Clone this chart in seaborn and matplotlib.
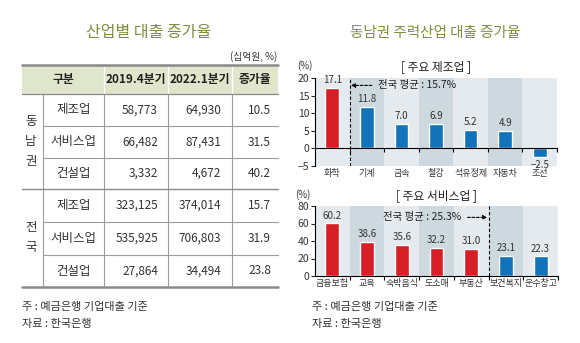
import matplotlib
matplotlib.use('Agg')
import matplotlib.pyplot as plt
from matplotlib.patches import Rectangle
import seaborn as sns
import pandas as pd
import numpy as np

# ---------------- data ----------------
left_title = '산업별 대출 증가율'
right_title = '동남권 주력산업 대출 증가율'
unit_label = '(십억원, %)'
table_header = ['구분', '2019.4분기', '2022.1분기', '증가율']
table_groups = ['동남권', '전국']
table_sectors = ['제조업', '서비스업', '건설업']
se_2019q4 = ['58,773', '66,482', '3,332']
se_2022q1 = ['64,930', '87,431', '4,672']
se_growth = ['10.5', '31.5', '40.2']
nat_2019q4 = ['323,125', '535,925', '27,864']
nat_2022q1 = ['374,014', '706,803', '34,494']
nat_growth = ['15.7', '31.9', '23.8']

mfg_title = '[ 주요 제조업 ]'
mfg_cats = ['화학', '기계', '금속', '철강', '석유정제', '자동차', '조선']
mfg_vals = [17.1, 11.8, 7.0, 6.9, 5.2, 4.9, -2.5]
mfg_avg = 15.7
mfg_ticks = [-5, 0, 5, 10, 15, 20]

svc_title = '[ 주요 서비스업 ]'
svc_cats = ['금융보험', '교육', '숙박음식', '도소매', '부동산', '보건복지', '운수창고']
svc_vals = [60.2, 38.6, 35.6, 32.2, 31.0, 23.1, 22.3]
svc_avg = 25.3
svc_ticks = [0, 20, 40, 60, 80]

note_lines = ['주 : 예금은행 기업대출 기준', '자료 : 한국은행']

# ---------------- style ----------------
sns.set_style('white')
plt.rcParams['font.family'] = ['Noto Sans CJK KR', 'DejaVu Sans']
plt.rcParams['axes.unicode_minus'] = True

TXT = '#333333'
OLIVE = '#7f8e3e'
RED = '#d81f28'
BLUE = '#1273ba'
BG_LIGHT = '#e4eaee'
BG_DARK = '#cdd8df'
GRID = '#9c9c9c'

W, H = 580, 343
fig = plt.figure(figsize=(W / 100, H / 100), dpi=100)
fig.patch.set_facecolor('white')

bg = fig.add_axes([0, 0, 1, 1])
bg.set_xlim(0, W)
bg.set_ylim(H, 0)
bg.axis('off')

# ---------------- titles ----------------
bg.text(149, 32, left_title, ha='center', va='center', fontsize=11.5, color=OLIVE)
bg.text(435, 33, right_title, ha='center', va='center', fontsize=10.5, color=OLIVE)
bg.text(277, 57, unit_label, ha='right', va='center', fontsize=7, color=TXT)

# ---------------- table ----------------
L, R = 22, 278
top, hdr_bot, bottom = 65, 94, 287
row_edges = [94, 126, 158, 189, 222, 255, 287]
col_sep = [104, 168, 232]
sub_sep = 43

bg.add_patch(Rectangle((L, top), R - L, hdr_bot - top, facecolor='#dfe6cb', lw=0))
for x in col_sep:
    bg.plot([x, x], [top, hdr_bot], color='white', lw=1.0)
    bg.plot([x, x], [hdr_bot, bottom], color=GRID, lw=0.8)
bg.plot([sub_sep, sub_sep], [hdr_bot, bottom], color=GRID, lw=0.8)
for y in [126, 158, 222, 255]:
    bg.plot([sub_sep, R], [y, y], color=GRID, lw=0.8)
bg.plot([L, R], [189, 189], color='#8a8a8a', lw=1.0)
bg.plot([L, R], [hdr_bot, hdr_bot], color='#8a8a8a', lw=0.9)
bg.plot([L, R], [top, top], color='#8a8a8a', lw=1.8)
bg.plot([L, R], [bottom, bottom], color='#8a8a8a', lw=1.8)

hdr_x = [(L + col_sep[0]) / 2, (col_sep[0] + col_sep[1]) / 2,
         (col_sep[1] + col_sep[2]) / 2, (col_sep[2] + R) / 2]
for x, t in zip(hdr_x, table_header):
    bg.text(x, 80, t, ha='center', va='center', fontsize=8.5, fontweight='bold', color='#222222')

groups_data = [(se_2019q4, se_2022q1, se_growth), (nat_2019q4, nat_2022q1, nat_growth)]
num_right = [158, 221, 271]
for g, (gname, cols) in enumerate(zip(table_groups, groups_data)):
    y0, y1 = row_edges[3 * g], row_edges[3 * g + 3]
    gc = (y0 + y1) / 2
    nch = len(gname)
    for k, ch in enumerate(gname):
        bg.text(31, gc + (k - (nch - 1) / 2) * 20, ch, ha='center', va='center',
                fontsize=9, color=TXT)
    for r in range(3):
        yc = (row_edges[3 * g + r] + row_edges[3 * g + r + 1]) / 2
        bg.text((sub_sep + col_sep[0]) / 2, yc, table_sectors[r], ha='center', va='center',
                fontsize=9, color=TXT)
        for c in range(3):
            bg.text(num_right[c], yc, cols[c][r], ha='right', va='center', fontsize=8.5, color=TXT)

for i, t in enumerate(note_lines):
    bg.text(22, 307 + i * 17, t, ha='left', va='center', fontsize=8, color=TXT)
    bg.text(312, 307 + i * 17, t, ha='left', va='center', fontsize=8, color=TXT)


# ---------------- charts ----------------
def draw(ax, cats, vals, avg, ticks, zero_frac):
    n = len(cats)
    for i in range(n):
        ax.axvspan(i - 0.5, i + 0.5, color=BG_LIGHT if i % 2 == 0 else BG_DARK, lw=0, zorder=0)
    colors = [RED if v > avg else BLUE for v in vals]
    df = pd.DataFrame({'cat': cats, 'val': vals})
    sns.barplot(data=df, x='cat', y='val', hue='cat', palette=dict(zip(cats, colors)),
                legend=False, width=0.4, saturation=1, ax=ax, zorder=3)
    for cont in ax.containers:
        ax.bar_label(cont, fmt=lambda v: f'{v:.1f}'.replace('-', '\u2212'),
                     padding=2, fontsize=7, color=TXT)
    ax.set_xlim(-0.5, n - 0.5)
    ax.set_ylim(ticks[0], ticks[-1])
    ax.set_yticks(ticks)
    ax.set_xlabel('')
    ax.set_ylabel('')
    for s in ['top', 'right']:
        ax.spines[s].set_visible(False)
    ax.spines['left'].set_color('black')
    ax.spines['left'].set_linewidth(0.8)
    ax.tick_params(axis='y', length=3, width=0.8, direction='out', labelsize=7.5,
                   labelcolor=TXT, pad=1, left=True)
    ax.tick_params(axis='x', which='major', length=0, labelsize=6.5, labelcolor=TXT, pad=2)
    bounds = np.arange(1, n + 1) - 0.5
    n_above = sum(v > avg for v in vals)
    ax.axvline(n_above - 0.5, color='black', lw=0.8, ls=(0, (3, 2)), zorder=4)
    if zero_frac == 0:
        ax.spines['bottom'].set_color('black')
        ax.spines['bottom'].set_linewidth(0.8)
        ax.set_xticks(bounds, minor=True)
        ax.tick_params(axis='x', which='minor', length=3, width=0.8, direction='out',
                       bottom=True, color='black')
    else:
        ax.spines['bottom'].set_visible(False)
        sec = ax.secondary_xaxis(zero_frac)
        sec.set_xticks(bounds)
        sec.set_xticklabels([])
        sec.tick_params(axis='x', length=3, width=0.8, direction='out', color='black')
        sec.spines['bottom'].set_linewidth(0.8)
        sec.spines['bottom'].set_color('black')
        sec.set_zorder(6)
    return n_above


ax1 = fig.add_axes([315 / W, 1 - 166 / H, (557 - 315) / W, (166 - 78) / H])
ax2 = fig.add_axes([315 / W, 1 - 276 / H, (558 - 315) / W, (276 - 206) / H])

na1 = draw(ax1, mfg_cats, mfg_vals, mfg_avg, mfg_ticks,
           (0 - mfg_ticks[0]) / (mfg_ticks[-1] - mfg_ticks[0]))
na2 = draw(ax2, svc_cats, svc_vals, svc_avg, svc_ticks, 0)

arrow_kw = dict(arrowstyle='-|>', lw=0.8, color='black', linestyle=(0, (2.5, 1.5)),
                shrinkA=2, shrinkB=1, mutation_scale=6)
ax1.annotate(f'전국 평균 : {mfg_avg}%', xy=(na1 - 0.5, 17.9), xytext=(1.32, 17.9),
             ha='left', va='center', fontsize=7.5, color='#222222',
             arrowprops=arrow_kw, zorder=5)
ax2.annotate(f'전국 평균 : {svc_avg}%', xy=(na2 - 0.5, 67), xytext=(3.72, 67),
             ha='right', va='center', fontsize=7.5, color='#222222',
             arrowprops=arrow_kw, zorder=5)

bg.text(297, 66, '(%)', ha='left', va='center', fontsize=7, color=TXT)
bg.text(436, 67, mfg_title, ha='center', va='center', fontsize=8.5, color='#222222')
bg.text(295, 195, '(%)', ha='left', va='center', fontsize=7, color=TXT)
bg.text(436, 196, svc_title, ha='center', va='center', fontsize=8.5, color='#222222')

fig.savefig('out.png', dpi=100, facecolor='white')
